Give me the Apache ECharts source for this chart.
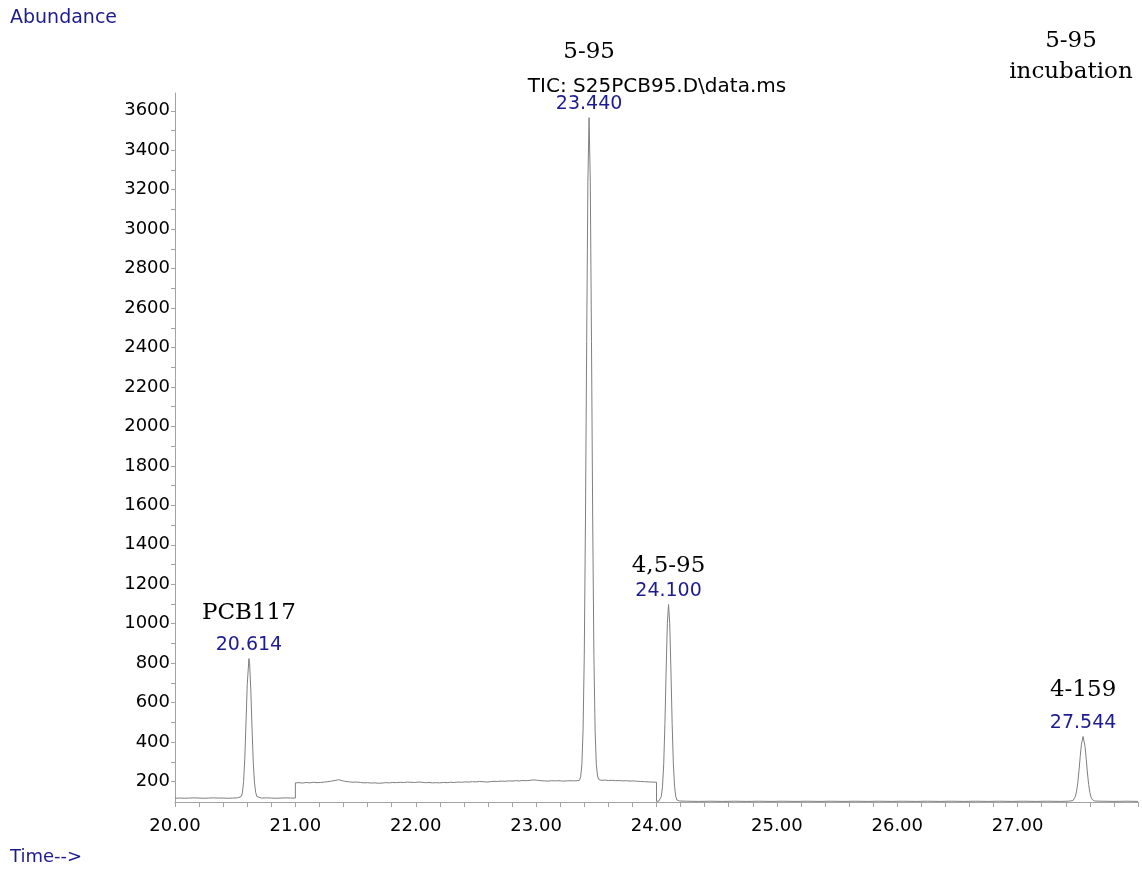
<!DOCTYPE html>
<html>
<head>
<meta charset="utf-8">
<title>TIC: S25PCB95.D\data.ms</title>
<script src="https://cdn.jsdelivr.net/npm/echarts@6/dist/echarts.min.js"></script>
<style>
  html, body { margin: 0; padding: 0; background: #ffffff; }
  #chart { width: 1142px; height: 871px; }
</style>
</head>
<body>
<div id="chart"></div>
<script>
// Total ion chromatogram, [retention time (min), abundance].
// Stretch before the first detector step.
const ticSegmentA = [
  [20.00,115],[20.04,116],[20.08,115],[20.12,116],[20.16,117],[20.20,116],[20.24,115],
  [20.28,116],[20.32,117],[20.36,116],[20.40,116],[20.44,115],[20.48,116],[20.52,117],
  [20.55,124],[20.56,142],[20.57,200],[20.58,320],[20.59,500],[20.60,690],
  [20.62,797],[20.63,660],[20.64,470],[20.65,300],[20.66,196],[20.67,145],[20.68,124],
  [20.69,118],[20.72,116],[20.76,117],[20.80,116],[20.84,115],[20.88,116],[20.92,117],
  [20.96,116],[21.00,116]
];
// Raised stretch between 21.00 and 24.00 min.
const ticSegmentB = [
  [21.00,193],[21.03,194],[21.06,192],[21.09,195],[21.12,193],[21.15,196],[21.18,194],
  [21.21,195],[21.24,197],[21.27,199],[21.30,202],[21.33,205],[21.36,209],[21.39,204],
  [21.42,200],[21.45,198],[21.48,196],[21.51,197],[21.54,195],[21.57,193],[21.60,194],
  [21.63,192],[21.66,193],[21.69,191],[21.72,192],[21.75,194],[21.78,193],[21.81,195],
  [21.84,194],[21.87,196],[21.90,195],[21.93,197],[21.96,196],[21.99,195],[22.02,197],
  [22.05,196],[22.08,194],[22.11,195],[22.14,193],[22.17,194],[22.20,193],[22.23,195],
  [22.26,194],[22.29,196],[22.32,195],[22.35,197],[22.38,196],[22.41,198],[22.44,197],
  [22.47,199],[22.50,198],[22.53,200],[22.56,199],[22.59,197],[22.62,199],[22.65,201],
  [22.68,200],[22.71,202],[22.74,201],[22.77,203],[22.80,202],[22.83,204],[22.86,203],
  [22.89,205],[22.92,204],[22.95,206],[22.98,208],[23.01,206],[23.04,204],[23.07,203],
  [23.10,202],[23.13,204],[23.16,203],[23.19,204],[23.22,202],[23.25,203],[23.28,204],
  [23.31,203],[23.34,204],[23.36,206],[23.37,224],[23.38,285],[23.39,460],[23.40,840],
  [23.41,1530],[23.42,2430],[23.43,3240],
  [23.45,3240],[23.46,2430],[23.47,1530],[23.48,840],[23.49,460],[23.50,285],[23.51,228],
  [23.52,210],[23.54,206],[23.57,207],[23.60,205],[23.63,206],[23.66,204],[23.69,205],
  [23.72,203],[23.75,204],[23.78,202],[23.81,203],[23.84,201],[23.87,200],[23.90,199],
  [23.93,198],[23.96,197],[24.00,196]
];
// Stretch after the drop at 24.00 min.
const ticSegmentC = [
  [24.00,99],[24.02,101],[24.03,106],[24.04,124],[24.05,176],[24.06,289],[24.07,494],
  [24.08,760],[24.09,1000],
  [24.11,1000],[24.12,760],[24.13,494],[24.14,289],[24.15,176],[24.16,124],[24.17,106],
  [24.19,101],[24.25,100],[24.35,99],[24.45,100],[24.55,99],[24.65,100],[24.75,99],
  [24.85,100],[24.95,99],[25.05,100],[25.15,99],[25.25,100],[25.35,99],[25.45,100],
  [25.55,99],[25.65,100],[25.75,99],[25.85,100],[25.95,99],[26.05,100],[26.15,99],
  [26.25,100],[26.35,99],[26.45,100],[26.55,99],[26.65,100],[26.75,99],[26.85,100],
  [26.95,99],[27.05,100],[27.15,99],[27.25,100],[27.35,99],[27.42,100],[27.46,103],
  [27.47,110],[27.48,124],[27.49,151],[27.50,195],[27.51,257],[27.52,327],[27.53,389],
  [27.55,420],[27.56,378],[27.57,313],[27.58,243],[27.59,185],[27.60,144],[27.61,120],
  [27.62,108],[27.64,101],[27.70,100],[27.80,99],[27.90,100],[28.00,99]
];

// Integrated peaks: apex retention time, apex abundance, compound.
const peakTimes = [20.614, 23.440, 24.100, 27.544];
const peakAbundance = [823, 3565, 1097, 428];
const peakNames = ['PCB117', '5-95', '4,5-95', '4-159'];

// Axis labels.
const timeLabels = [20, 21, 22, 23, 24, 25, 26, 27];
const abundanceLabels = [200, 400, 600, 800, 1000, 1200, 1400, 1600, 1800,
  2000, 2200, 2400, 2600, 2800, 3000, 3200, 3400, 3600];

// Gap between each compound name and its apex, in pixels.
const nameGap = [34, 54, 27, 35];

// Put the peak apexes into the trace, keeping the order of equal times.
function buildTrace() {
  const trace = ticSegmentA.concat(ticSegmentB, ticSegmentC).map(p => p.slice());
  peakTimes.forEach((t, i) => {
    let k = trace.findIndex(p => p[0] > t);
    if (k < 0) k = trace.length;
    trace.splice(k, 0, [t, peakAbundance[i]]);
  });
  return trace;
}

const timeTicks = [];
for (let i = 0; i <= 40; i++) timeTicks.push(+(20 + i * 0.2).toFixed(1));
const abundanceTicks = [];
for (let v = 200; v <= 3600; v += 100) abundanceTicks.push(v);

const axisGrey = '#a3a3a3';
const blue = '#1c1c8f';
const sans = 'DejaVu Sans';
const serif = 'DejaVu Serif';

const chart = echarts.init(document.getElementById('chart'), null, { renderer: 'canvas' });

chart.setOption({
  animation: false,
  backgroundColor: '#ffffff',
  grid: { left: 175, right: 4, top: 93, bottom: 69 },
  xAxis: {
    type: 'value',
    min: 20,
    max: 28,
    axisLine: { show: true, onZero: false, lineStyle: { color: axisGrey, width: 1 } },
    axisTick: { show: true, customValues: timeTicks, length: 5, lineStyle: { color: axisGrey } },
    axisLabel: {
      customValues: timeLabels,
      formatter: v => v.toFixed(2),
      fontFamily: sans, fontSize: 18, color: '#000000', margin: 15
    },
    splitLine: { show: false }
  },
  yAxis: {
    type: 'value',
    min: 96,
    max: 3690,
    axisLine: { show: true, onZero: false, lineStyle: { color: axisGrey, width: 1 } },
    axisTick: { show: true, customValues: abundanceTicks, length: 4, lineStyle: { color: axisGrey } },
    axisLabel: {
      customValues: abundanceLabels,
      formatter: v => String(v),
      fontFamily: sans, fontSize: 18, color: '#000000', margin: 5
    },
    splitLine: { show: false }
  },
  series: [
    {
      name: 'TIC',
      type: 'line',
      data: buildTrace(),
      showSymbol: false,
      symbol: 'none',
      lineStyle: { color: '#7f7f7f', width: 1 },
      z: 2
    },
    {
      name: 'Retention time',
      type: 'scatter',
      symbolSize: 0,
      itemStyle: { opacity: 1 },
      data: peakTimes.map((t, i) => [t, peakAbundance[i]]),
      label: {
        show: true,
        position: 'top',
        distance: 4,
        opacity: 1,
        formatter: p => p.value[0].toFixed(3),
        fontFamily: sans, fontSize: 19, color: blue
      },
      z: 3
    },
    {
      name: 'Compound',
      type: 'scatter',
      symbolSize: 0,
      itemStyle: { opacity: 1 },
      data: peakTimes.map((t, i) => ({
        value: [t, peakAbundance[i]],
        name: peakNames[i],
        label: { distance: nameGap[i] }
      })),
      label: {
        show: true,
        position: 'top',
        opacity: 1,
        formatter: p => p.name,
        fontFamily: serif, fontSize: 23, color: '#000000'
      },
      z: 3
    }
  ],
  graphic: [
    {
      type: 'text', x: 10, y: 18,
      style: { text: 'Abundance', fill: blue, font: '19px "DejaVu Sans"',
        textAlign: 'left', align: 'left', textVerticalAlign: 'middle', verticalAlign: 'middle' }
    },
    {
      type: 'text', x: 10, y: 857,
      style: { text: 'Time-->', fill: blue, font: '18px "DejaVu Sans"',
        textAlign: 'left', align: 'left', textVerticalAlign: 'middle', verticalAlign: 'middle' }
    },
    {
      type: 'text', x: 657, y: 87,
      style: { text: 'TIC: S25PCB95.D\\data.ms', fill: '#000000', font: '20px "DejaVu Sans"',
        textAlign: 'center', align: 'center', textVerticalAlign: 'middle', verticalAlign: 'middle' }
    },
    {
      type: 'text', x: 1071, y: 57,
      style: { text: '5-95\nincubation', fill: '#000000', font: '23px "DejaVu Serif"',
        lineHeight: 31,
        textAlign: 'center', align: 'center', textVerticalAlign: 'middle', verticalAlign: 'middle' }
    }
  ]
});
</script>
</body>
</html>
